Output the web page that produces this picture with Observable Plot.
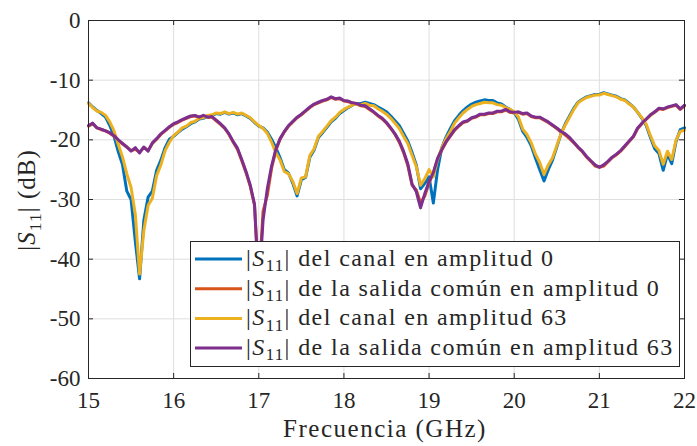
<!DOCTYPE html>
<html><head><meta charset="utf-8">
<script src="https://cdn.jsdelivr.net/npm/d3@7"></script>
<script src="https://cdn.jsdelivr.net/npm/@observablehq/plot@0.6"></script>
<style>body{margin:0;background:#fff}#chart{width:697px;height:446px}</style>
</head><body><div id="chart"></div>
<script>
const freq = [15.00,15.05,15.10,15.15,15.20,15.25,15.30,15.35,15.40,15.45,15.50,15.55,15.60,15.65,15.70,15.75,15.80,15.85,15.90,15.95,
16.00,16.05,16.10,16.15,16.20,16.25,16.30,16.35,16.40,16.45,16.50,16.55,16.60,16.65,16.70,16.75,16.80,16.85,16.90,16.95,
17.00,17.05,17.10,17.15,17.20,17.25,17.30,17.35,17.40,17.45,17.50,17.55,17.60,17.65,17.70,17.75,17.80,17.85,17.90,17.95,
18.00,18.05,18.10,18.15,18.20,18.25,18.30,18.35,18.40,18.45,18.50,18.55,18.60,18.65,18.70,18.75,18.80,18.85,18.90,18.95,
19.00,19.05,19.10,19.15,19.20,19.25,19.30,19.35,19.40,19.45,19.50,19.55,19.60,19.65,19.70,19.75,19.80,19.85,19.90,19.95,
20.00,20.05,20.10,20.15,20.20,20.25,20.30,20.35,20.40,20.45,20.50,20.55,20.60,20.65,20.70,20.75,20.80,20.85,20.90,20.95,
21.00,21.05,21.10,21.15,21.20,21.25,21.30,21.35,21.40,21.45,21.50,21.55,21.60,21.65,21.70,21.75,21.80,21.85,21.90,21.95,22.00];

// |S11| del canal en amplitud 0
const canal0 = [-13.8,-14.5,-15.1,-15.6,-16.2,-17.6,-19.4,-22.0,-24.2,-28.6,-30.0,-37.0,-43.3,-33.5,-29.6,-28.6,-25.1,-23.4,-21.3,-19.9,
-19.4,-18.8,-18.2,-17.8,-17.3,-17.0,-16.5,-16.4,-16.0,-15.9,-15.6,-15.7,-15.4,-15.7,-15.5,-15.8,-15.6,-16.0,-16.4,-17.1,
-17.7,-18.0,-18.7,-19.9,-21.3,-23.0,-25.0,-25.6,-27.3,-29.4,-26.7,-26.3,-22.9,-21.7,-19.6,-18.8,-17.9,-17.0,-16.4,-15.6,
-15.1,-14.6,-14.2,-13.9,-13.9,-13.7,-13.9,-14.1,-14.5,-14.9,-15.3,-16.0,-16.8,-17.6,-18.9,-20.2,-22.1,-24.2,-28.2,-27.3,
-26.2,-30.6,-25.0,-21.3,-19.5,-18.1,-16.8,-15.9,-15.1,-14.5,-14.0,-13.7,-13.5,-13.3,-13.4,-13.4,-13.8,-14.0,-14.5,-14.9,
-15.4,-16.6,-18.6,-19.6,-21.0,-23.1,-25.0,-26.9,-25.0,-23.4,-21.2,-19.0,-17.3,-16.0,-14.7,-13.7,-13.2,-12.8,-12.6,-12.4,
-12.4,-12.1,-12.3,-12.5,-12.7,-13.1,-13.3,-13.9,-14.5,-15.4,-16.4,-17.6,-19.6,-21.5,-22.3,-25.1,-22.4,-24.0,-20.3,-18.3,-18.0];

// |S11| de la salida común en amplitud 0
const comun0 = [-17.7,-17.3,-18.0,-18.3,-18.5,-18.9,-19.4,-20.1,-20.7,-21.2,-21.8,-21.6,-22.1,-21.3,-21.8,-20.6,-19.9,-19.1,-18.5,-17.9,
-17.4,-17.1,-16.7,-16.4,-16.1,-16.0,-16.2,-16.0,-16.2,-16.2,-16.8,-17.4,-18.1,-19.1,-20.4,-21.6,-23.5,-25.5,-27.8,-31.0,
-44.0,-32.0,-29.3,-24.8,-21.8,-19.9,-18.7,-17.7,-17.0,-16.3,-15.8,-15.2,-14.6,-14.1,-13.8,-13.5,-13.3,-12.9,-13.2,-13.1,
-13.5,-13.6,-13.9,-14.0,-14.3,-14.4,-14.9,-15.4,-16.0,-16.5,-17.2,-18.1,-19.1,-20.4,-22.1,-24.3,-27.6,-28.4,-30.6,-29.4,
-27.2,-25.6,-23.2,-21.7,-20.4,-19.4,-18.4,-17.7,-17.1,-16.9,-16.4,-16.2,-15.8,-15.8,-15.6,-15.6,-15.3,-15.3,-15.0,-15.4,
-15.5,-15.4,-15.7,-15.6,-16.1,-16.3,-16.3,-16.7,-17.1,-17.6,-18.1,-18.7,-19.2,-19.8,-20.5,-21.3,-22.0,-22.9,-23.6,-24.4,
-24.6,-24.4,-23.7,-23.0,-22.5,-21.9,-21.1,-20.3,-19.5,-18.1,-17.3,-16.6,-15.9,-15.4,-14.8,-14.9,-14.6,-14.4,-14.2,-14.9,-14.3];

// |S11| del canal en amplitud 63
const canal63 = [-13.9,-14.6,-15.2,-15.4,-15.9,-17.0,-18.5,-20.8,-22.9,-25.7,-28.0,-32.5,-42.5,-35.2,-31.0,-29.8,-26.0,-24.2,-21.8,-20.4,
-19.3,-18.7,-18.0,-17.7,-17.1,-16.9,-16.4,-16.3,-15.9,-15.8,-15.5,-15.6,-15.3,-15.6,-15.4,-15.7,-15.5,-15.9,-16.3,-17.0,
-17.6,-18.1,-18.9,-20.4,-22.1,-23.4,-25.3,-25.7,-27.0,-29.0,-26.4,-26.2,-22.6,-21.5,-19.4,-18.6,-17.7,-16.8,-16.2,-15.4,
-14.9,-14.5,-14.2,-13.9,-14.1,-13.9,-14.2,-14.3,-14.8,-15.2,-15.7,-16.4,-17.2,-18.1,-19.4,-20.6,-22.6,-24.5,-27.6,-26.5,
-25.0,-26.2,-23.3,-21.3,-19.8,-18.6,-17.2,-16.3,-15.5,-14.9,-14.4,-14.1,-13.9,-13.7,-13.8,-13.8,-14.1,-14.2,-14.6,-14.9,
-15.3,-16.2,-18.2,-19.1,-20.5,-22.4,-23.8,-25.8,-24.2,-23.0,-21.0,-19.0,-17.5,-16.2,-14.9,-13.8,-13.3,-12.9,-12.7,-12.5,
-12.5,-12.2,-12.4,-12.6,-12.8,-13.2,-13.4,-14.0,-14.5,-15.4,-16.3,-17.4,-19.3,-21.0,-21.8,-24.1,-21.9,-23.3,-20.1,-18.6,-18.4];

// |S11| de la salida común en amplitud 63
const comun63 = [-17.6,-17.2,-18.0,-18.2,-18.5,-18.8,-19.3,-20.0,-20.6,-21.2,-21.9,-21.3,-22.2,-21.2,-21.9,-20.5,-19.8,-19.0,-18.4,-17.8,
-17.3,-17.0,-16.6,-16.3,-16.0,-15.9,-16.2,-15.9,-16.2,-16.1,-16.7,-17.3,-18.0,-19.0,-20.3,-21.4,-23.3,-25.3,-27.6,-30.8,
-45.0,-33.5,-28.2,-24.4,-21.6,-19.8,-18.6,-17.6,-16.9,-16.2,-15.7,-15.1,-14.5,-14.0,-13.7,-13.4,-13.2,-12.8,-13.1,-13.0,
-13.4,-13.5,-13.8,-13.9,-14.2,-14.3,-14.8,-15.3,-15.9,-16.4,-17.1,-18.0,-19.0,-20.2,-21.9,-24.0,-27.4,-28.7,-31.4,-29.0,
-27.0,-25.5,-23.1,-21.6,-20.3,-19.3,-18.3,-17.6,-17.0,-16.8,-16.3,-16.1,-15.7,-15.7,-15.5,-15.5,-15.2,-15.2,-14.9,-15.3,
-15.4,-15.3,-15.6,-15.5,-16.0,-16.2,-16.2,-16.6,-17.0,-17.5,-18.0,-18.6,-19.0,-19.6,-20.4,-21.2,-21.9,-22.8,-23.5,-24.2,
-24.6,-24.2,-23.6,-22.9,-22.4,-21.8,-21.0,-20.2,-19.4,-18.0,-17.2,-16.5,-15.8,-15.3,-14.7,-14.8,-14.5,-14.3,-14.1,-14.8,-14.2];

const seriesNames = ["del canal en amplitud 0", "de la salida común en amplitud 0", "del canal en amplitud 63", "de la salida común en amplitud 63"];
const seriesColors = ["#0072BD", "#D95319", "#EDB120", "#7E2F8E"];
const seriesValues = [canal0, comun0, canal63, comun63];
const xTicks = [15, 16, 17, 18, 19, 20, 21, 22];
const yTicks = [0, -10, -20, -30, -40, -50, -60];

const rows = seriesValues.flatMap((vals, s) => vals.map((v, i) => ({f: freq[i], db: v, s})));
const ink = "#262626";
const font = "'Liberation Serif', 'DejaVu Serif', serif";

const chart = Plot.plot({
  width: 697, height: 446,
  marginLeft: 88, marginRight: 13, marginTop: 20, marginBottom: 68,
  style: {fontFamily: font, fontSize: "23px", color: ink, background: "#fff"},
  x: {domain: [15, 22], label: null},
  y: {domain: [-60, 0], label: null},
  marks: [
    Plot.gridX(xTicks, {stroke: "#dedede", strokeOpacity: 1}),
    Plot.gridY(yTicks, {stroke: "#dedede", strokeOpacity: 1}),
    ...seriesValues.map((_, s) => Plot.line(rows.filter(d => d.s === s), {x: "f", y: "db", stroke: seriesColors[s], strokeWidth: 3, strokeLinejoin: "round"})),
    Plot.ruleX(xTicks, {y1: -60, y2: -59.16, stroke: ink}),
    Plot.ruleX(xTicks, {y1: 0, y2: -0.84, stroke: ink}),
    Plot.ruleY(yTicks, {x1: 15, x2: 15.059, stroke: ink}),
    Plot.ruleY(yTicks, {x1: 22, x2: 21.941, stroke: ink}),
    Plot.frame({stroke: ink}),
    Plot.axisX(xTicks, {tickSize: 0, tickPadding: 13, tickFormat: d => String(d), fontSize: 23, fill: ink}),
    Plot.axisY(yTicks, {tickSize: 0, tickPadding: 8, tickFormat: d => String(d), fontSize: 23, fill: ink})
  ]
});
document.getElementById("chart").appendChild(chart);

const svg = d3.select(chart);
// x-axis title
svg.append("text").attr("x", 385).attr("y", 437).attr("text-anchor", "middle")
  .attr("font-family", font).attr("font-size", 25).attr("letter-spacing", 1.5).attr("fill", ink).text("Frecuencia (GHz)");

function s11(sel, size) {
  sel.append("tspan").text("|");
  sel.append("tspan").attr("font-style", "italic").text("S");
  sel.append("tspan").attr("font-size", size * 0.7).attr("dy", size * 0.22).text("11");
  sel.append("tspan").attr("dy", -size * 0.22).text("|");
}
// y-axis title
const yt = svg.append("text").attr("transform", "translate(35,200) rotate(-90)").attr("text-anchor", "middle")
  .attr("font-family", font).attr("font-size", 25).attr("letter-spacing", 1).attr("fill", ink);
s11(yt, 25);
yt.append("tspan").text(" (dB)");

// legend
const lg = svg.append("g");
lg.append("rect").attr("x", 190.5).attr("y", 241.5).attr("width", 489).attr("height", 125)
  .attr("fill", "#fff").attr("stroke", ink).attr("stroke-width", 1);
seriesNames.forEach((name, i) => {
  const cy = 259 + i * 29.7;
  lg.append("line").attr("x1", 195).attr("x2", 242).attr("y1", cy).attr("y2", cy)
    .attr("stroke", seriesColors[i]).attr("stroke-width", 3);
  const t = lg.append("text").attr("x", 246).attr("y", cy + 7).attr("text-anchor", "start")
    .attr("font-family", font).attr("font-size", 24).attr("letter-spacing", 1.4).attr("fill", ink);
  s11(t, 24);
  t.append("tspan").text(" " + name);
});
</script></body></html>
